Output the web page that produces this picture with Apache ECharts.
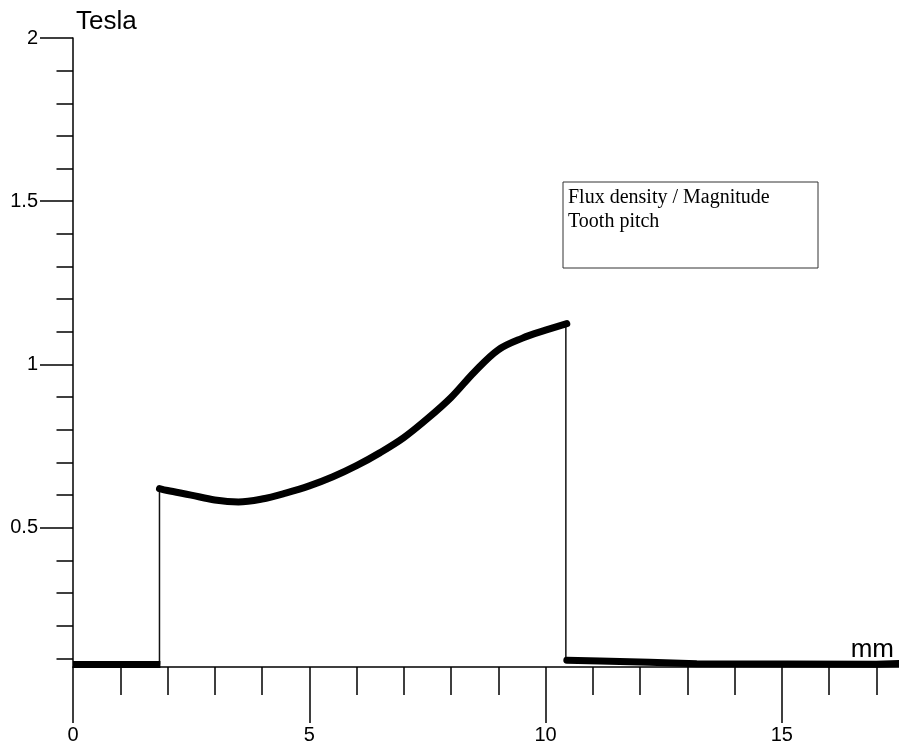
<!DOCTYPE html>
<html><head><meta charset="utf-8">
<script src="https://cdn.jsdelivr.net/npm/echarts@6/dist/echarts.min.js"></script>
<style>html,body{margin:0;padding:0;background:#fff}#c{width:899px;height:749px}</style>
</head><body><div id="c"></div>
<script>
// Tick values / labels
const xMajorTicks = [0, 5, 10, 15];
const xMinorTicks = [1, 2, 3, 4, 6, 7, 8, 9, 11, 12, 13, 14, 16, 17];
const yMajorTicks = [0.5, 1, 1.5, 2];
const yMinorTicks = [0.1, 0.2, 0.3, 0.4, 0.6, 0.7, 0.8, 0.9, 1.1, 1.2, 1.3, 1.4, 1.6, 1.7, 1.8, 1.9];

// Data: flux density magnitude (Tesla) vs position (mm)
const flatX = [0, 1.85];
const flatY = [0.081, 0.081];
const curveX = [1.83, 2.0, 2.5, 3.0, 3.5, 4.0, 4.5, 5.0, 5.5, 6.0, 6.5, 7.0, 7.5, 8.0, 8.5, 9.0, 9.5, 10.0, 10.45];
const curveY = [0.620, 0.614, 0.600, 0.585, 0.579, 0.588, 0.606, 0.628, 0.656, 0.690, 0.730, 0.776, 0.834, 0.899, 0.978, 1.045, 1.080, 1.105, 1.125];
const tailX = [10.45, 11.15, 12.2, 13.2, 17.0, 17.48];
const tailY = [0.094, 0.092, 0.088, 0.083, 0.082, 0.084];
const jump1X = [1.83, 1.83];
const jump1Y = [0.081, 0.620];
const jump2X = [10.43, 10.43];
const jump2Y = [1.125, 0.094];

const legendLines = ['Flux density / Magnitude', 'Tooth pitch'];

const zip = (xs, ys) => xs.map((x, i) => [x, ys[i]]);
const FONT = 'Liberation Sans, Arial, sans-serif';
const thick = (data, cap, smooth) => ({
  type: 'line', data, xAxisIndex: 0, yAxisIndex: 0, symbol: 'none', clip: false,
  smooth: smooth, lineStyle: { color: '#000', width: 7, cap: cap, join: 'round' }, silent: true
});
const thin = (data) => ({
  type: 'line', data, xAxisIndex: 0, yAxisIndex: 0, symbol: 'none', clip: false,
  lineStyle: { color: '#111', width: 1.5 }, silent: true
});

const chart = echarts.init(document.getElementById('c'), null, { renderer: 'canvas' });
const XMAX = 17.48, YMIN = 0.0734, YMAX = 2;
chart.setOption({
  backgroundColor: '#fff',
  animation: false,
  grid: { left: 73, right: 0, top: 38, bottom: 82, containLabel: false, outerBoundsMode: 'none' },
  xAxis: [
    {
      type: 'value', min: 0, max: XMAX, position: 'bottom',
      axisLine: { show: true, onZero: false, lineStyle: { color: '#000', width: 1.5 } },
      axisTick: { show: true, customValues: xMajorTicks, length: 56, lineStyle: { color: '#000', width: 1.5 } },
      axisLabel: { customValues: xMajorTicks, margin: 58, fontSize: 20, color: '#000', fontFamily: FONT },
      splitLine: { show: false },
      name: 'mm', nameLocation: 'end', nameGap: -5,
      nameTextStyle: { fontSize: 26, fontFamily: FONT, color: '#000', align: 'right', verticalAlign: 'bottom', padding: [0, 0, 4, 0] }
    },
    {
      type: 'value', min: 0, max: XMAX, position: 'bottom',
      axisLine: { show: false, onZero: false },
      axisTick: { show: true, customValues: xMinorTicks, length: 28, lineStyle: { color: '#000', width: 1.5 } },
      axisLabel: { show: false }, splitLine: { show: false }
    }
  ],
  yAxis: [
    {
      type: 'value', min: YMIN, max: YMAX, position: 'left',
      axisLine: { show: true, onZero: false, lineStyle: { color: '#000', width: 1.5 } },
      axisTick: { show: true, customValues: yMajorTicks, length: 33, lineStyle: { color: '#000', width: 1.5 } },
      axisLabel: { customValues: yMajorTicks, margin: 35, fontSize: 20, color: '#000', fontFamily: FONT },
      splitLine: { show: false },
      name: 'Tesla', nameLocation: 'end', nameGap: 3,
      nameTextStyle: { fontSize: 26, fontFamily: FONT, color: '#000', align: 'left', verticalAlign: 'bottom', padding: [0, 0, 0, 3] }
    },
    {
      type: 'value', min: YMIN, max: YMAX, position: 'left',
      axisLine: { show: false, onZero: false },
      axisTick: { show: true, customValues: yMinorTicks, length: 16.5, lineStyle: { color: '#000', width: 1.5 } },
      axisLabel: { show: false }, splitLine: { show: false }
    }
  ],
  series: [
    thin(zip(jump1X, jump1Y)),
    thin(zip(jump2X, jump2Y)),
    thick(zip(flatX, flatY), 'butt', false),
    thick(zip(curveX, curveY), 'round', 0.35),
    thick(zip(tailX, tailY), 'round', false)
  ],
  graphic: [
    {
      type: 'rect', shape: { x: 563, y: 182, width: 255, height: 86 },
      style: { fill: '#fff', stroke: '#333', lineWidth: 1 }, z: 10
    },
    {
      type: 'text', x: 568, y: 186, z: 11,
      style: { text: legendLines.join('\n'), font: '20px "Liberation Serif", "Times New Roman", serif', fill: '#000', lineHeight: 23.5, verticalAlign: 'top', align: 'left' }
    }
  ]
});
</script>
</body></html>
